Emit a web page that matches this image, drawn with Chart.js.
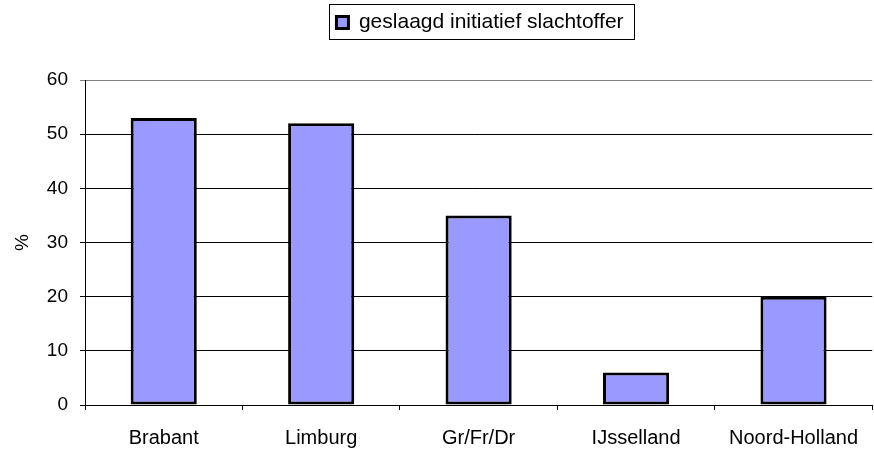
<!DOCTYPE html>
<html lang="nl">
<head>
    <meta charset="UTF-8">
    <title>Geslaagd initiatief slachtoffer</title>
    <script src="https://cdn.jsdelivr.net/npm/chart.js@4.4.7/dist/chart.umd.min.js"></script>
    <style>
        html, body { margin: 0; padding: 0; background: #fff; }
        #wrap { width: 874px; height: 449px; }
    </style>
</head>
<body>
    <div id="wrap"><canvas id="grafiek"></canvas></div>
    <script>
        // data
        const regios = ['Brabant', 'Limburg', 'Gr/Fr/Dr', 'IJsselland', 'Noord-Holland'];
        const percentages = [53, 52, 35, 6, 20];
        const reeksNaam = 'geslaagd initiatief slachtoffer';
        const yTicks = [0, 10, 20, 30, 40, 50, 60];

        Chart.defaults.font.family = '"Liberation Sans", Arial, sans-serif';
        Chart.defaults.color = '#000';

        // legenda iets naar rechts schuiven en omkaderen
        const legendaKader = {
            id: 'legendaKader',
            afterLayout(chart) {
                const lg = chart.legend;
                lg.left += 43; lg.right += 43;
                lg.top -= 37; lg.bottom -= 37;
            },
            afterDraw(chart) {
                const lg = chart.legend;
                const hb = lg.legendHitBoxes[0];
                const itemLeft = (lg.left + lg.right - hb.width) / 2;
                const ctx = chart.ctx;
                ctx.save();
                ctx.strokeStyle = '#000';
                ctx.lineWidth = 1;
                ctx.strokeRect(Math.round(itemLeft - 7) + 0.5, 4.5, Math.round(hb.width + 18), 35);
                ctx.restore();
            }
        };

        new Chart(document.getElementById('grafiek'), {
            type: 'bar',
            data: {
                labels: regios,
                datasets: [{
                    label: reeksNaam,
                    data: percentages,
                    backgroundColor: '#9999ff',
                    borderColor: '#000',
                    borderWidth: 3,
                    borderSkipped: false,
                    categoryPercentage: 0.42,
                    barPercentage: 1
                }]
            },
            options: {
                responsive: true,
                maintainAspectRatio: false,
                animation: false,
                layout: { padding: 0 },
                plugins: {
                    tooltip: { enabled: false },
                    legend: {
                        position: 'top',
                        labels: {
                            boxWidth: 12,
                            boxHeight: 12,
                            padding: 49,
                            font: { size: 21 }
                        }
                    }
                },
                scales: {
                    x: {
                        grid: {
                            offset: true,
                            drawOnChartArea: false,
                            drawTicks: true,
                            tickLength: 5,
                            color: '#000'
                        },
                        border: { color: '#000', width: 1 },
                        ticks: { font: { size: 20 }, padding: 16, maxRotation: 0 },
                        afterFit(scale) { scale.height = 44; }
                    },
                    y: {
                        min: 0,
                        max: 60,
                        afterBuildTicks(scale) { scale.ticks = yTicks.map(v => ({ value: v })); },
                        grid: {
                            color: ctx => ctx.tick && ctx.tick.value === 60 ? '#808080' : '#000',
                            lineWidth: 1,
                            tickLength: 5
                        },
                        border: { color: '#000', width: 1 },
                        ticks: { font: { size: 19 }, padding: 12 },
                        title: {
                            display: true,
                            text: '%',
                            font: { size: 19 },
                            padding: { top: 11, bottom: 0 }
                        },
                        afterFit(scale) { scale.width = 85; }
                    }
                }
            },
            plugins: [legendaKader]
        });
    </script>
</body>
</html>
